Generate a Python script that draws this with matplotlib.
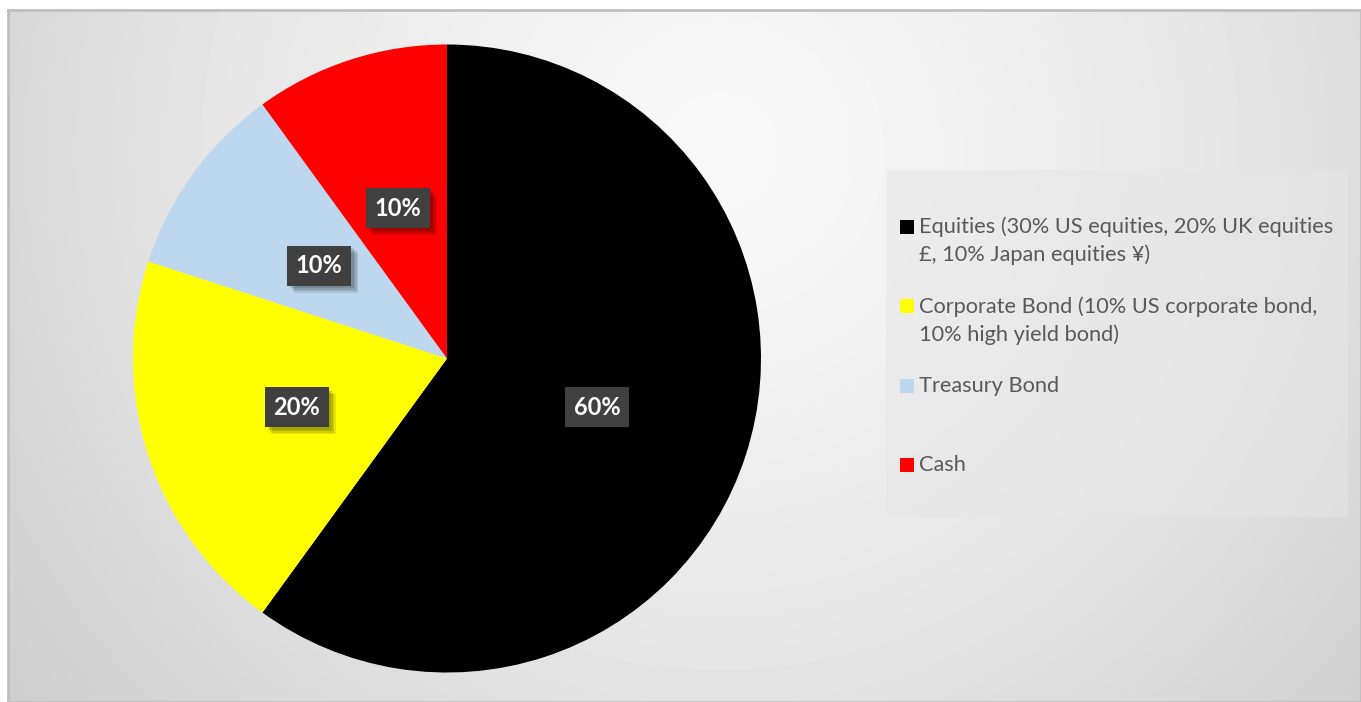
import numpy as np
import matplotlib.pyplot as plt
import matplotlib.patheffects as pe
from matplotlib.patches import Rectangle

plt.rcParams['font.family'] = ['Lato', 'DejaVu Sans']

# portfolio allocation
categories = ['Equities (30% US equities, 20% UK equities\n£, 10% Japan equities ¥)',
              'Corporate Bond (10% US corporate bond,\n10% high yield bond)',
              'Treasury Bond',
              'Cash']
shares = [60, 20, 10, 10]
colors = ['#000000', '#ffff00', '#bdd7ee', '#ff0000']

W, H = 1361, 702
fig = plt.figure(figsize=(W / 100, H / 100), dpi=100)
fig.patch.set_facecolor('white')


def fx(x):
    return x / W


def fy(y):
    return 1 - y / H


# chart area with soft radial shading
bg = fig.add_axes([fx(8), 0, 1 - fx(8), 1 - 10 / H])
yy, xx = np.mgrid[10:H, 8:W]
d = np.hypot(xx - 720, yy - 150)
shade = np.clip(248 - 43 * (d / 900) ** 1.4, 195, 250) / 255
bg.imshow(shade, cmap='gray', vmin=0, vmax=1, aspect='auto', extent=(0, 1, 0, 1),
          interpolation='bilinear')
bg.set_xticks([])
bg.set_yticks([])
for side, sp in bg.spines.items():
    sp.set_color('#bfbfbf')
    sp.set_linewidth(2)

# pie
R = 314
ax = fig.add_axes([fx(447 - R), fy(358.5 + R), 2 * R / W, 2 * R / H])
wedges, texts, autotexts = ax.pie(shares, colors=colors, startangle=90, counterclock=False,
                                  radius=1, autopct='%.0f%%', pctdistance=0.503,
                                  textprops=dict(color='white', fontsize=17, fontweight='bold'))
ax.set_xlim(-1, 1)
ax.set_ylim(-1, 1)
ax.axis('off')
# soft drop shadow behind the value boxes
shadow = [pe.SimplePatchShadow(offset=(k, -k), shadow_rgbFace='black', alpha=0.1)
          for k in (5, 4, 3, 2)]
for t in autotexts:
    t.set_bbox(dict(boxstyle='square,pad=0.36', fc='#404040', ec='none'))
    t.get_bbox_patch().set_path_effects(shadow + [pe.Normal()])

# legend
fig.patches.append(Rectangle((fx(886), fy(517)), (1348 - 886) / W, 347 / H,
                             transform=fig.transFigure, fc='#e6e6e6', ec='none', alpha=0.5))
for i, (label, col) in enumerate(zip(categories, colors)):
    y0 = 227 + 79.3 * i
    fig.patches.append(Rectangle((fx(900), fy(y0 + 7)), 14 / W, 14 / H,
                                 transform=fig.transFigure, fc=col, ec='none'))
    for j, line in enumerate(label.split('\n')):
        fig.text(fx(919), fy(y0 + 28 * j), line, fontsize=15.7, color='#595959',
                 ha='left', va='center')

fig.savefig('out.png', dpi=100)
